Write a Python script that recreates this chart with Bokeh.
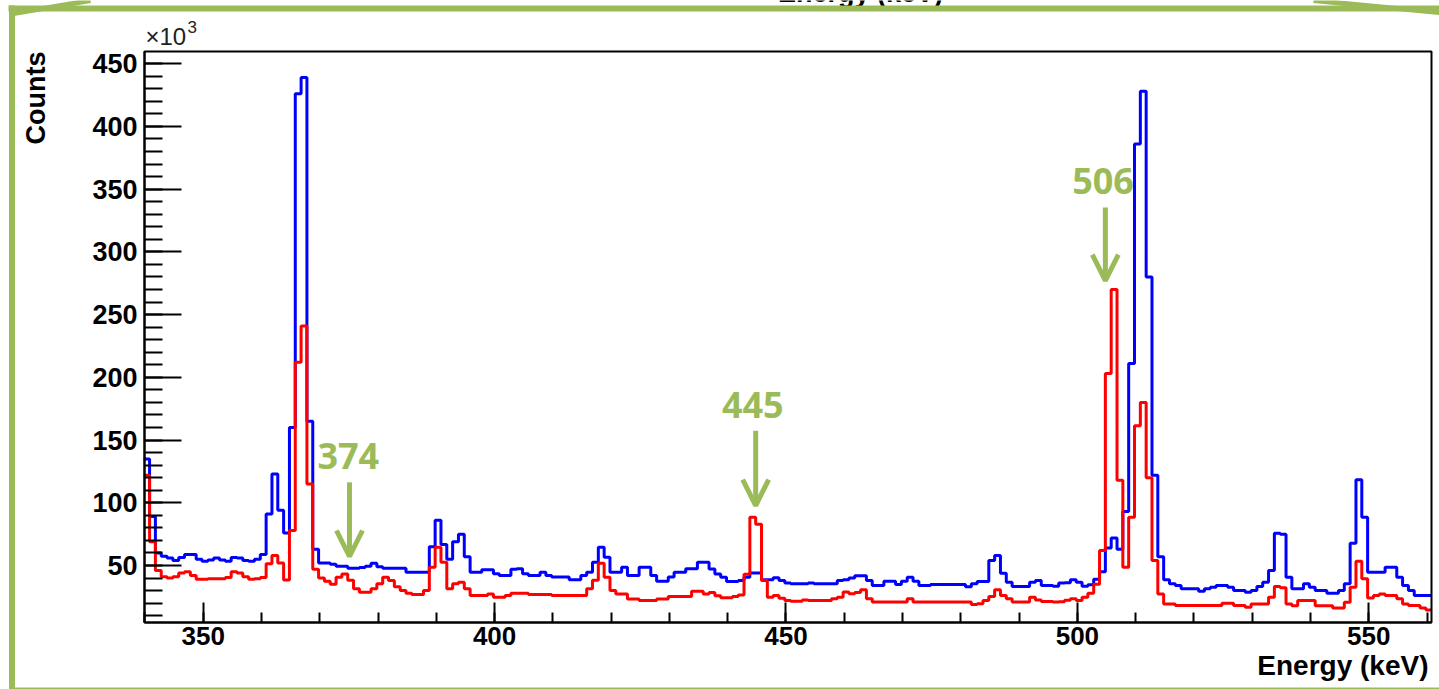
import numpy as np
from bokeh.plotting import figure
from bokeh.models import Range1d, SingleIntervalTicker, Label, Arrow, OpenHead
from bokeh.embed import file_html
from bokeh.resources import INLINE

# ---- spectra: 1 keV channels, counts in units of 10^3 -------------------
E_START = 339.8   # low edge of the first channel (keV)
E_WIDTH = 1.0     # channel width (keV)

counts_blue = [
    135, 89, 60, 57.4, 56, 54, 56.5, 58.8, 58.8, 55,
    53.4, 54.5, 56, 54.5, 53.4, 56.5, 56, 54, 53.4, 55,
    58.8, 91, 123, 94, 76, 160, 426, 439, 165, 63,
    52, 52, 51, 49.5, 49.5, 47.9, 47.9, 48.5, 49.5, 51.8,
    49, 47.9, 47.9, 47.9, 47.9, 44.7, 44.7, 44.7, 44.7, 65,
    86, 66.8, 55, 69, 75, 57, 44.7, 44.7, 46.6, 46.6,
    43.4, 42, 42, 47, 47.4, 43.4, 42, 42, 44.7, 42,
    40.8, 40.8, 40.8, 38.6, 38.6, 42, 44.7, 52.6, 64.6, 56.7,
    44.7, 44.7, 48.7, 42, 42, 48.7, 48.7, 42, 37.5, 37.5,
    40.8, 44.7, 44.7, 47.4, 47.4, 52.6, 52.6, 47.3, 43.3, 40.6,
    37.2, 37.2, 38, 40.6, 44, 44, 38.6, 38.6, 40.2, 38,
    36, 35.4, 35.4, 35.4, 36, 35.4, 35.4, 35.4, 35.4, 38,
    38.6, 40, 41.9, 41.9, 38, 34, 34, 37.5, 37.5, 34.8,
    37.5, 40.6, 37.5, 34, 34, 34.8, 34.8, 34.8, 34.8, 34.8,
    34.8, 33, 35.4, 37.2, 37.2, 54, 58, 43.8, 36.6, 33.2,
    33.2, 33.2, 36.6, 38, 34, 34, 33.5, 36, 36.3, 38.6,
    36.7, 33.4, 34.7, 39, 45, 64, 72, 63, 93, 211,
    386, 428, 280, 122, 57, 38.6, 35.4, 34, 31.4, 31.4,
    31.4, 29.5, 31.4, 32.7, 34, 34, 32.7, 30.1, 30.1, 28.8,
    30.1, 33.3, 36.7, 46, 75.7, 75, 40.6, 31.4, 31.4, 35.4,
    32.7, 30.1, 30.1, 28, 28, 30.1, 35.4, 67.7, 118.3, 88.5,
    44.7, 44.7, 44.7, 48.6, 48.6, 40.6, 34, 30.1, 26.1, 26.1,
    26.1,
]

counts_red = [
    122, 69, 46, 41, 40, 41, 44, 45, 42, 39,
    39, 39.5, 39.5, 39.5, 40.5, 45, 44, 41, 39, 39.5,
    40.5, 51.5, 58, 52, 38.5, 78, 212, 241, 115, 47,
    40, 37.5, 35, 40.7, 43.3, 38.2, 31.4, 28.8, 28.8, 31.4,
    35.4, 40.7, 38, 33, 30.1, 28, 26.9, 27, 30.1, 48.7,
    64.6, 52.7, 31.4, 35.4, 36.7, 31.4, 26.1, 26.1, 26.1, 27.4,
    24.8, 24.8, 26.1, 28, 28, 28, 26.9, 26.9, 26.9, 26.9,
    26.1, 26.1, 26.1, 26.1, 26.1, 26.1, 31.4, 38.2, 51.9, 40.7,
    30.1, 27.4, 27.4, 23.4, 23.4, 22.1, 22.1, 22.1, 23.4, 23.4,
    25.3, 25.3, 25.3, 25.3, 29.6, 29.6, 27.4, 28.5, 26, 24.3,
    24.3, 25.4, 26.5, 43, 88.5, 83, 38, 24.8, 26.1, 24,
    22.1, 21.6, 21.6, 22.5, 22.1, 22.1, 22.1, 22.1, 23.5, 24.8,
    28.9, 27.5, 28.5, 30.8, 23.5, 20.9, 20.9, 20.9, 20.9, 20.9,
    20.9, 23.5, 20.9, 20.9, 20.9, 20.9, 20.9, 20.9, 20.9, 20.9,
    20.9, 20.9, 19, 19.5, 22.1, 25.4, 30.7, 26.1, 23.5, 20.9,
    20.9, 20.9, 24.8, 22.5, 21.3, 21.3, 21, 21.2, 22.3, 23.5,
    22.1, 24.8, 28, 35, 62, 203, 270, 118, 48.6, 88.5,
    161.5, 180, 120, 54, 27.4, 19.4, 19.4, 18.1, 18.1, 18.1,
    18.1, 18.1, 18.1, 18.1, 18.1, 20, 20, 18.1, 18.1, 16.8,
    19.4, 19.4, 19.4, 24.8, 33.3, 32.2, 19.4, 18, 22.1, 22.1,
    22.1, 18, 18, 18, 16.2, 16.2, 20.7, 32.7, 53.4, 39.4,
    24.2, 26.1, 27.4, 26.1, 26.1, 23.5, 19.4, 18.1, 18.1, 16.2,
    14.6,
]

x_ticks_step = 50
y_ticks_step = 50

# peak markers: text, arrow energy (keV), label centre (keV),
# label baseline / arrow top / arrow tip (x10^3 counts)
peak_marks = [
    ("374", 375.1, 374.9, 125.7, 116.3, 57.2),
    ("445", 444.8, 444.3, 166.3, 157.5, 97.8),
    ("506", 504.8, 504.4, 344.6, 335.3, 277.0),
]

GREEN = "#9BBB59"
FONT = "Liberation Sans"

# page size and the histogram box on it (pixels from the top-left corner)
W, H = 1439, 689
FL, FR, FT, FB = 144, 1431, 51, 622
X0, X1 = 339.93, 560.76     # energy span of the box
Y0, Y1 = 4.6, 459.7         # counts span of the box (x10^3)

# the plotting frame fills the page; the box is a sub-region of it
kx = (FR - FL) / (X1 - X0)
ky = (FB - FT) / (Y1 - Y0)
x_range = Range1d(X0 - FL / kx, X1 + (W - FR) / kx)
y_range = Range1d(Y0 - (H - FB) / ky, Y1 + FT / ky)

p = figure(width=W, height=H, output_backend="svg", toolbar_location=None,
           x_range=x_range, y_range=y_range,
           min_border_left=0, min_border_right=0, min_border_top=0, min_border_bottom=0)
p.background_fill_color = "white"
p.border_fill_color = "white"
p.outline_line_color = None
p.grid.visible = False

edges = E_START + E_WIDTH * np.arange(len(counts_blue) + 1)
p.step(edges, np.append(counts_blue, counts_blue[-1]), mode="after",
       line_color="#0000FF", line_width=3)
p.step(edges, np.append(counts_red, counts_red[-1]), mode="after",
       line_color="#FF0000", line_width=3)

# box outline
p.quad(left=X0, right=X1, bottom=Y0, top=Y1, fill_color=None,
       line_color="black", line_width=2)

# axes pinned to the box edges
p.xaxis.fixed_location = Y0
p.yaxis.fixed_location = X0
p.xaxis.bounds = (X0, X1)
p.yaxis.bounds = (Y0, Y1)
for ax, tick_in, minor_in, step in ((p.xaxis, 20, 10, x_ticks_step),
                                    (p.yaxis, 37, 18, y_ticks_step)):
    ax.ticker = SingleIntervalTicker(interval=step, num_minor_ticks=5)
    ax.major_tick_in = tick_in
    ax.major_tick_out = 0
    ax.minor_tick_in = minor_in
    ax.minor_tick_out = 0
    ax.axis_line_color = "black"
    ax.axis_line_width = 2
    ax.major_tick_line_width = 2
    ax.minor_tick_line_width = 2
    ax.major_tick_line_color = "black"
    ax.minor_tick_line_color = "black"
    ax.major_label_text_font = FONT
    ax.major_label_text_font_style = "bold"
    ax.major_label_text_color = "black"
p.xaxis.major_label_text_font_size = "26px"
p.yaxis.major_label_text_font_size = "27px"
p.xaxis.major_label_standoff = 4
p.yaxis.major_label_standoff = 7

BASE_SHIFT = 0.36   # alphabetic baseline correction, in em


def page_label(px, py, text, size, baseline_em=True, **kw):
    """Place a text at page pixels (px, py); py is the text baseline."""
    if baseline_em:
        py = py - BASE_SHIFT * size
    p.add_layout(Label(x=px, y=H - py, x_units="screen", y_units="screen",
                       text=text, text_font_size=f"{size}px", **kw))


def page_line(x0, y0, x1, y1, width, color=GREEN):
    p.add_layout(Arrow(end=None, x_start=x0, y_start=H - y0, x_end=x1, y_end=H - y1,
                       start_units="screen", end_units="screen",
                       line_color=color, line_width=width))


# axis titles
page_label(35, 51, "Counts", 27, baseline_em=False, angle=np.pi / 2,
           text_align="right", text_baseline="middle",
           text_font=FONT, text_font_style="bold", text_color="black")
page_label(1428, 675, "Energy (keV)", 28, text_align="right", text_baseline="alphabetic",
           text_font=FONT, text_font_style="bold", text_color="black")
page_label(145, 45, "\u00d710", 24, text_align="left", text_baseline="alphabetic",
           text_font=FONT, text_color="#222222")
page_label(187, 33, "3", 17, text_align="left", text_baseline="alphabetic",
           text_font=FONT, text_color="#222222")
# title of the panel above, cut off by the page edge
page_label(860, 2, "Energy (keV)", 27, text_align="center", text_baseline="alphabetic",
           text_font=FONT, text_font_style="bold", text_color="black")

# peak markers
PEAK_FONT = 36
for text, ax_x, lx, ly, y_top, y_tip in peak_marks:
    p.add_layout(Label(x=lx, y=ly + (BASE_SHIFT * PEAK_FONT + 2) / ky, text=text,
                       text_align="center", text_baseline="alphabetic",
                       text_font="Open Sans", text_font_style="bold",
                       text_font_size=f"{PEAK_FONT}px", text_color=GREEN))
    p.add_layout(Arrow(x_start=ax_x, y_start=y_top, x_end=ax_x, y_end=y_tip,
                       line_color=GREEN, line_width=5,
                       end=OpenHead(size=26, line_color=GREEN, line_width=5)))

# callout frame around the panel
page_line(8, 8, W, 8, 6)
page_line(11.5, 5, 11.5, H, 6)
page_line(13, 13, 90, 0, 5)
page_line(1313, 0, W, 12, 5)
page_line(11, 688, W, 688, 2)

open("out.html", "w").write(file_html(p, INLINE))
